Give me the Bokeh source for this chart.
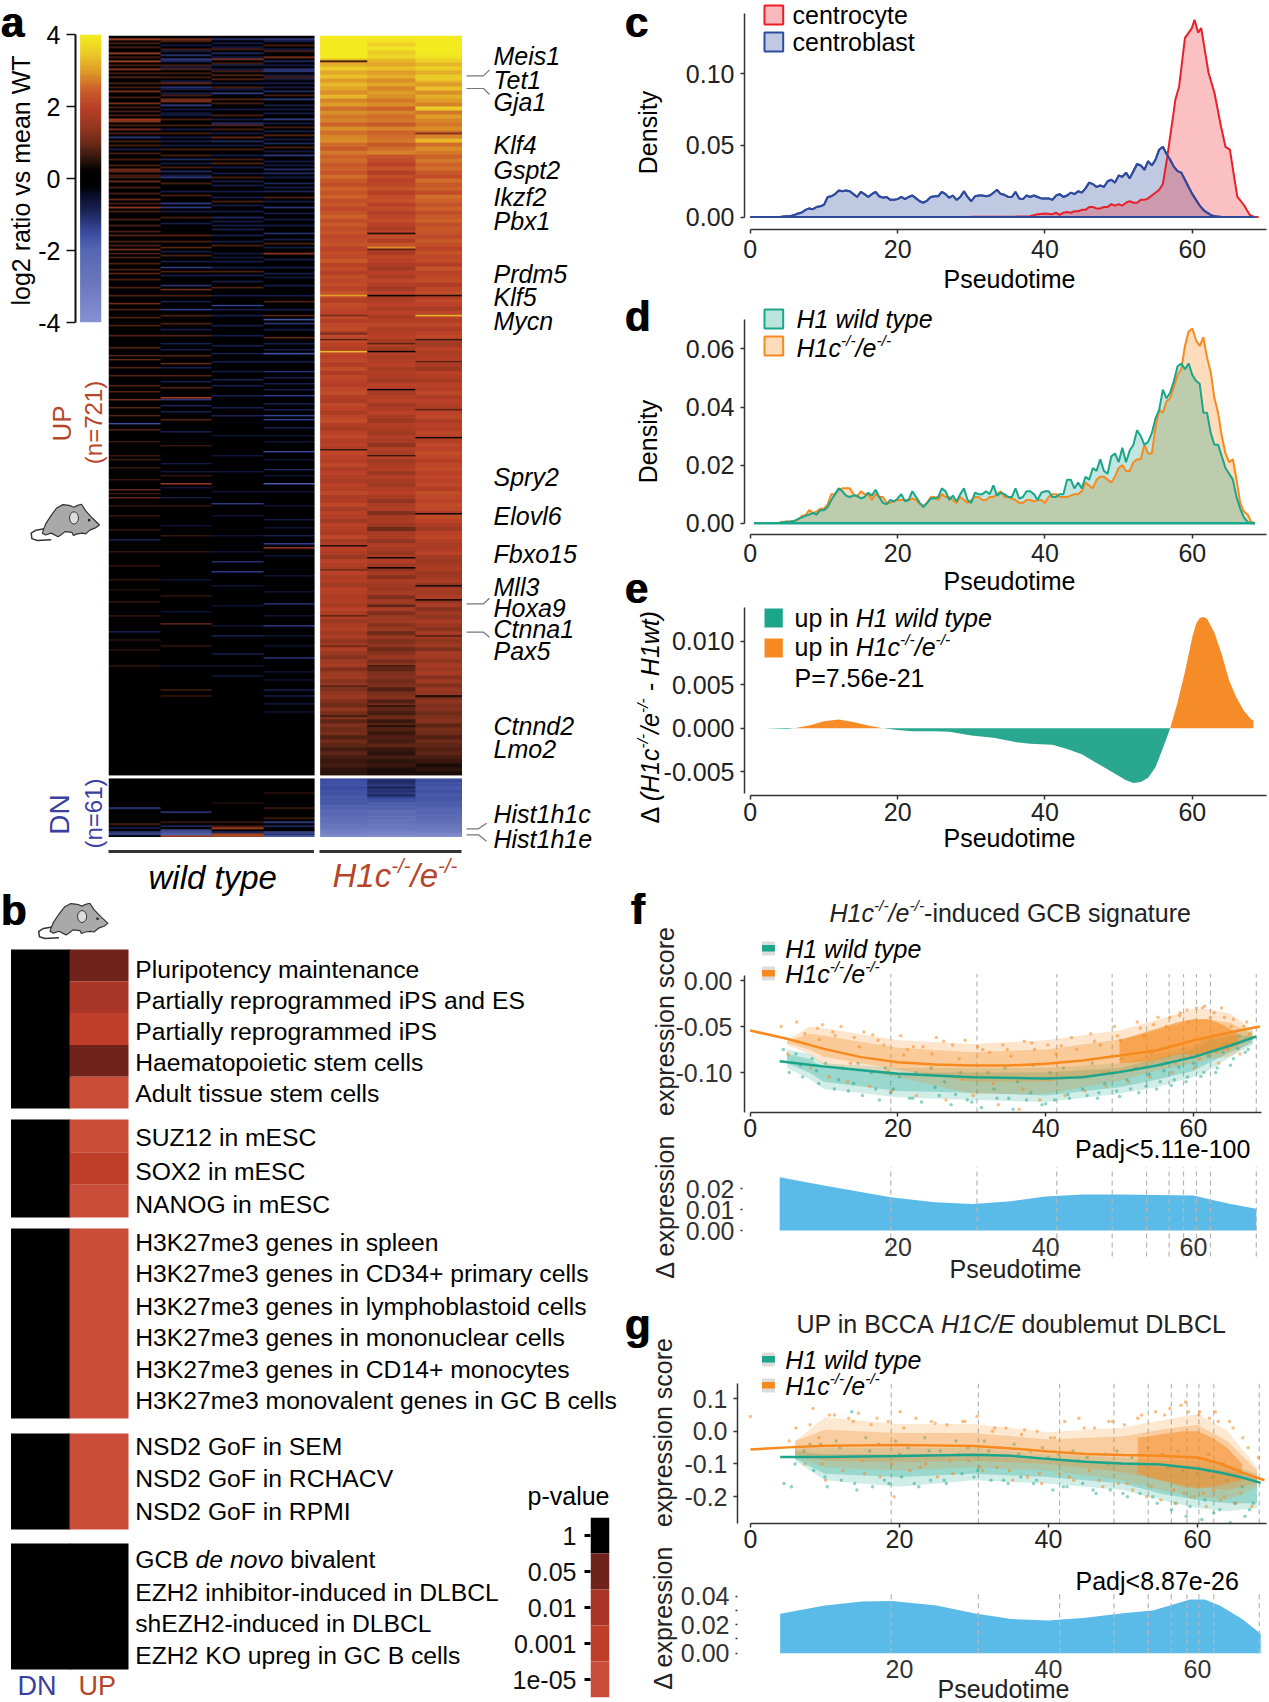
import math
import numpy as np
from bokeh.plotting import figure
from bokeh.layouts import column
from bokeh.models import Range1d, FixedTicker, LinearColorMapper
from bokeh.core.properties import value
from bokeh.embed import file_html
from bokeh.resources import INLINE

# ---------- DATA ----------
genes = ["Meis1","Tet1","Gja1","Klf4","Gspt2","Ikzf2","Pbx1","Prdm5","Klf5","Mycn","Spry2","Elovl6","Fbxo15",
         "Mll3","Hoxa9","Ctnna1","Pax5","Ctnnd2","Lmo2","Hist1h1c","Hist1h1e"]
cbar_ticks = [-4,-2,0,2,4]

# KO heat, 185 bands per column (log2 ratio)
ko_up_1 = [4,4,4,4,4,4, 3.4,3.2,3.5,3.1,3.4,3.0,3.3,3.1,2.9,3.3,
 2.8,3.0,2.6,2.9,2.7,2.8,2.5,2.9,2.6,2.8,2.9,2.6,2.4,2.7,2.5,
 2.6,2.4,2.5,2.3,2.6,2.4,2.2,2.5,2.3,2.5,2.2,2.4,2.1,2.3,2.5,2.2,2.4,2.2,2.3,2.1,
 2.2,2.3,2.0,2.2,2.1,2.4,2.0,2.2,1.9,2.2,2.1,2.2,2.0,2.3,2.1,1.9,2.2,2.1,2.0,2.2,1.9,2.1,2.2,1.8,2.1,2.2,2.0,1.9,2.1,2.0,
 2.1,1.9,2.2,1.8,2.1,2.0,1.9,2.1,2.2,1.9,1.8,2.1,2.0,1.8,2.1,2.2,1.9,1.7,2.0,2.1,1.9,2.0,1.8,2.1,2.0,1.9,2.1,1.8,2.0,1.9,
 1.7,2.0,1.9,2.1,1.8,1.9,2.1,1.7,2.0,1.9,1.6,2.0,1.9,1.8,2.1,1.7,1.9,2.0,1.8,1.5,2.0,1.9,1.7,2.0,1.8,1.9,1.6,2.0,1.9,1.8,
 1.9,1.7,2.0,1.8,1.9,1.5,1.8,1.9,1.6,1.8,1.4,1.7,1.8,1.5,1.3,1.6,1.7,1.2,1.5,1.6,1.3,1.5,1.2,1.4,1.5,
 1.2,1.0,1.4,1.1,1.3,0.9,1.2,1.0,1.1,0.8,1.0,0.9,0.7,0.9,0.7,0.6,0.7,0.5,0.5]
ko_up_2 = [4,3.9,3.6,3.9,3.5,3.7, 3.3,3.1,3.4,3.0,3.2,2.9,3.1,2.8,3.0,2.9,
 2.7,2.9,2.5,2.8,2.6,2.7,2.4,2.8,2.5,2.6,2.7,2.4,2.6,2.8,2.3,
 2.2,2.0,2.3,1.9,2.2,2.0,2.1,2.3,1.9,2.2,2.3,2.0,2.2,1.9,2.1,2.2,2.0,1.8,2.1,2.2,
 1.9,2.3,2.0,1.7,2.1,2.0,1.8,1.6,2.0,1.8,2.1,1.9,1.6,2.0,1.7,1.9,2.0,1.8,2.0,1.7,1.9,2.1,1.8,1.9,2.0,1.7,1.9,1.6,2.0,1.8,
 1.9,2.0,1.7,1.9,1.8,1.6,2.0,1.9,1.7,1.9,2.0,1.6,1.8,2.0,1.7,1.5,1.9,1.8,1.6,1.9,1.7,1.4,1.9,1.7,2.0,1.6,1.8,1.9,1.5,1.9,
 1.7,1.6,1.9,2.0,1.7,1.4,1.8,1.9,1.2,1.7,1.8,1.5,1.0,1.7,1.8,1.4,1.9,1.7,1.5,1.8,1.9,1.6,1.4,1.7,1.3,1.8,1.6,1.5,1.7,1.2,
 1.6,1.4,1.7,1.2,1.5,1.6,1.3,1.5,1.0,1.5,1.2,1.4,1.0,1.3,1.5,1.1,1.4,0.9,1.2,1.3,1.0,1.2,0.8,1.1,1.3,
 0.8,1.1,0.9,0.7,1.0,0.6,0.9,0.8,0.6,0.8,0.7,0.9,0.6,0.5,0.7,0.5,0.6,0.4,0.4]
ko_up_3 = [4,4,4,4,4,3.9, 3.6,3.3,3.6,3.2,3.5,3.3,3.0,3.4,2.9,3.2,
 3.0,2.8,3.6,2.7,3.0,2.8,2.7,2.9,2.6,2.8,3.3,2.6,2.9,2.7,2.5,
 2.7,2.5,2.6,2.4,2.2,2.6,2.4,2.5,2.2,2.6,2.5,2.3,2.5,2.2,2.4,2.5,2.2,2.4,2.3,2.1,
 2.4,2.2,2.0,2.3,2.1,2.2,1.9,2.3,2.0,2.1,2.2,1.8,2.1,2.2,1.9,2.1,2.0,1.7,2.1,2.0,1.9,2.1,1.8,2.0,2.1,1.7,1.6,2.0,1.8,1.9,
 2.0,1.8,1.5,2.0,1.9,1.7,2.0,1.9,2.1,1.8,2.0,1.9,1.7,2.0,2.1,1.8,2.0,1.9,2.1,2.0,1.9,2.1,2.0,2.2,2.1,1.9,2.1,2.2,2.0,2.1,
 2.0,2.1,1.9,2.2,2.1,2.0,2.2,2.1,1.9,2.2,2.0,1.8,1.6,2.0,2.1,1.9,1.7,1.8,2.0,1.6,1.5,1.7,1.8,1.5,1.6,1.8,1.4,1.7,1.6,1.8,
 1.5,1.7,1.3,1.6,1.4,1.7,1.5,1.3,1.7,1.6,1.4,1.6,1.2,1.7,1.6,1.4,1.7,1.5,1.7,1.3,1.6,1.2,1.5,1.4,1.1,
 1.4,1.2,1.3,1.0,1.2,1.3,0.9,1.1,1.0,0.8,1.0,0.9,0.8,0.9,0.7,0.6,0.4,0.5,0.4]
ko_dn_1 = [-1.5,-1.6,-1.6,-1.7,-1.5,-1.6,-1.7,-1.6,-1.7,-1.8,-1.7,-1.8,-1.7,-1.9,-2,-1.9,-2.1,-2.2,-2.0,-2.3,-2.5,-2.4,-2.6,-2.8,-2.7,-3,-3.1,-3.3,-3.5,-3.8]
ko_dn_2 = [-1.2,-1,-1.1,-1.3,-.9,-1.2,-1.1,-1.3,-1,-1.4,-1.6,-1.7,-1.9,-1.8,-2,-1.9,-2.2,-2.4,-2.1,-2.6,-2.4,-2.8,-2.5,-2.9,-3,-2.8,-3.2,-3.4,-3.6,-3.9]
ko_dn_3 = [-1.6,-1.5,-1.7,-1.6,-1.8,-1.7,-1.6,-1.7,-1.8,-1.7,-1.7,-1.8,-1.9,-1.8,-1.9,-2,-2.1,-2,-2.2,-2.3,-2.2,-2.5,-2.4,-2.7,-2.8,-3,-3,-3.3,-3.6,-3.9]
# narrow stripes: (row of 370, log2 ratio)
ko_stripes_1 = [(13,.1),(130,3.2),(140,1),(149,1),(152,.8),(158,3.4),(207,.6),(255,.3),(267,1),(290,.8),(305,.9),(325,.7),(340,.5)]
ko_stripes_2 = [(99,.1),(106,3),(107,.7),(130,.1),(154,.8),(158,.1),(177,.2),(210,.6),(261,.2),(266,.2),(285,.7),(315,.5),(335,.4),(345,.3)]
ko_stripes_3 = [(17,3.5),(22,3.6),(37,3.4),(49,1),(130,.3),(140,3.4),(152,.6),(163,.8),(187,.9),(201,.3),(239,.1),(275,.3),(282,.1),(300,.7),(330,.1)]
# wild-type stripes
wt_up_1 = [(2,2.2),(9,2.0),(13,2.2),(17,1.8),(21,1),(28,1.6),(34,1.5),(42,2),(43,1.8),(47,1.5),(51,-1.5),(57,-1),(67,1.4),(68,1.2),(73,1.3),(82,1.2),(86,1.8),(100,1),(107,1.4),(111,.9),(119,1),(134,1.2),(162,1),(182,1.2),(194,-1.6),(212,.7),(227,1),(231,1),(252,-1),(277,.5),(298,-1),(307,.6)]
wt_up_2 = [(2,1.6),(10,-1.4),(12,-1.6),(13,-1.2),(17,1),(24,1.2),(26,-1.4),(29,-1),(32,1.5),(33,1.5),(35,-1.6),(40,-.8),(51,-1),(53,-1),(62,-1.2),(68,-1.2),(71,-1.5),(84,-1.5),(86,-1.5),(100,1),(106,1),(116,-1.5),(125,-1.3),(127,1.2),(137,-1.5),(154,-.9),(164,1),(181,1.8),(182,-1.3),(185,-1),(214,-.7),(224,1.5),(231,-.8),(294,1),(327,.8),(330,.7)]
wt_up_3 = [(2,-1.4),(9,-1.2),(12,1.5),(15,-.9),(20,1),(22,1),(29,-1.6),(32,1),(44,-1.3),(45,1),(51,1.2),(53,-1.2),(64,1),(69,-.9),(73,-1),(81,-1),(91,-1.2),(97,-1),(100,-1),(109,-.8),(111,-.8),(120,-1),(135,-1.5),(137,-1),(159,-.9),(168,-.8),(172,-1),(234,-1.3),(263,-1.2),(268,-1.4),(300,-1),(309,-.9),(320,-.8)]
wt_up_4 = [(2,-1.6),(11,1.5),(13,-1.2),(17,-1.5),(18,-1.5),(24,-1),(28,-1.3),(32,-1.6),(35,-1),(42,-1.6),(48,-1),(50,1),(54,-1.2),(60,-1.5),(67,-1.3),(69,-1.2),(74,-1.1),(78,-1.1),(86,-1.4),(99,-1.3),(109,1.6),(116,-1),(121,-.8),(140,1),(142,-1.8),(144,-1.3),(151,1),(159,-1.8),(168,-1.2),(180,-1.4),(190,-1.5),(192,-1.4),(208,-1.5),(217,-1),(224,-1.9),(242,-.8),(250,-.9),(254,-1.5),(256,1.6),(284,-1.2),(295,-1.4),(311,-1.3),(327,-1),(330,-.9),(334,-.8)]
# faint wild-type stripes: row of 370, positive = faint red, negative = faint blue
wt_faint_1 = [4,6,11,15,19,24,26,31,36,38,40,45,49,53,55,59,62,65,70,71,76,79,84,88,92,95,98,103,105,109,114,117,122,126,130,137,141,145,150,156,160,166,170,175,178,186,190,197,203,210,216,222,229,235,240,247,258,265,272,283,290,302,315]
wt_faint_2 = [3,-5,7,-8,15,-16,19,21,-23,-27,30,-37,-39,42,45,-47,49,-55,57,60,-64,66,-70,74,-78,80,-88,91,-94,103,-108,110,-113,118,-120,130,-133,140,144,-147,150,-157,160,-166,170,-173,176,-188,192,-198,205,-218,220,-226,235,-245,250,258,-272,280,-288,305,-315]
wt_faint_3 = [-4,-6,7,-11,14,-17,18,-24,26,-27,34,-37,40,-42,47,-49,-55,57,-60,62,-66,71,-75,-78,83,-85,-88,-93,-95,-103,105,-113,-116,118,-123,126,-130,-140,-145,-150,-155,-163,-175,-180,-186,-190,-200,-210,-218,-228,-240,-250,-258,-275,-285,-295,-315]
wt_faint_4 = [-3,5,-7,8,-15,-20,21,-22,-26,30,-37,-39,-44,46,-52,56,-58,-63,-65,-71,-76,81,-83,-89,-92,-95,-102,104,-106,-112,-119,-125,-130,133,-137,-147,-154,-157,-163,-171,-174,-177,-184,-187,-196,-200,-203,-212,-220,-228,-235,-246,-260,-270,-278,-290,-300,-305,-318,-322,-338]
wt_dn_1 = [(15,-1.5),(23,.9),(25,-1),(27,-1.6),(28,-1.8)]
wt_dn_2 = [(17,-1.4),(22,.8),(24,-1.2),(26,-2),(27,-2.5),(28,-3),(29,2.2)]
wt_dn_3 = [(12,.5),(22,.8),(24,.9),(25,2.2),(27,-1.2),(28,2.4),(29,2.5)]
wt_dn_4 = [(7,.6),(15,.8),(20,.8),(22,-1.6),(24,-1.2),(27,-2),(28,-1.6),(29,-3)]

sig_groups = [
 ["Pluripotency maintenance","Partially reprogrammed iPS and ES","Partially reprogrammed iPS","Haematopoietic stem cells","Adult tissue stem cells"],
 ["SUZ12 in mESC","SOX2 in mESC","NANOG in mESC"],
 ["H3K27me3 genes in spleen","H3K27me3 genes in CD34+ primary cells","H3K27me3 genes in lymphoblastoid cells","H3K27me3 genes in mononuclear cells","H3K27me3 genes in CD14+ monocytes","H3K27me3 monovalent genes in GC B cells"],
 ["NSD2 GoF in SEM","NSD2 GoF in RCHACV","NSD2 GoF in RPMI"],
 ["GCB de novo bivalent","EZH2 inhibitor-induced in DLBCL","shEZH2-induced in DLBCL","EZH2 KO upreg in GC B cells"]]
sig_pclass = [[1,2,3,1,4],[4,3,4],[4,4,4,4,4,4],[4,4,4],[0,0,0,0]]
p_labels = ["1","0.05","0.01","0.001","1e-05"]
p_colors = ["#000000","#70231a","#a83526","#bf3e2a","#c94d39"]

# density c (x1000)
cb_x = [0,4,4.5,5,5.5,6,6.5,7,7.5,8,8.5,9,9.5,10,10.5,11,11.5,12,12.5,13,13.5,14,14.5,15,15.5,16,16.5,17,17.5,18,18.5,19,19.5,20,20.5,21,21.5,22,22.5,23,23.5,24,24.5,25,25.5,26,26.5,27,27.5,28,28.5,29,29.5,30,30.5,31,31.5,32,32.5,33,33.5,34,34.5,35,35.5,36,36.5,37,37.5,38,38.5,39,39.5,40,40.5,41,41.5,42,42.5,43,43.5,44,44.5,45,45.5,46,46.5,47,47.5,48,48.5,49,49.5,50,50.5,51,51.5,52,52.5,53,53.5,54,54.5,55,55.5,56,56.5,57,57.5,58,58.5,59,59.5,60,60.5,61,61.5,62,62.5,63,64,68.5]
cb_y = [0,0,.3,.6,.8,1.5,2.5,3.2,5,6,5.5,7,7.5,8.5,14,14.5,16,18.5,18,18.5,18,16,14,17.5,16,14,16,17.5,14.5,13.5,14,12,12,12.5,14,12.5,14,15,13,11,10,11.5,14,14.5,14.5,17.5,16,13.5,15,12,14,18,14,11,14.5,15,15,14.5,15,17,19,16,15.5,14,14,17.5,13,12.5,15,14,15,14,13,13,13,12,15,16,14,15,17,16,18,17,20,24,23,21,22,21,25,26,24,29,28,31,27,32,37,36,33,39,36,40,47,49,44,40,35,32,31,26,21,16,12,8,5,3,1.5,.5,0,0]
cc_x = [0,30,36,38,39,40,41,41.5,42,42.5,43,43.5,44,44.5,45,45.5,46,46.5,47,47.5,48,48.5,49,49.5,50,50.5,51,51.5,52,52.5,53,53.5,54,54.5,55,55.5,56,56.6,57.7,58.2,59,59.9,60.3,60.8,61.2,62.2,63,63.9,64.5,65.1,66.1,67,67.8,68.4,69]
cc_y = [0,.2,.4,.5,2,2.5,2,3,1.5,3,3.5,3,4,4,5,5,7,7,6,6,7,7,9,8,9,8,10,11,10,10,12,12,13,15,17,19,23,42,82,91,125,131.5,137.6,128.7,132,100.7,86.7,63,49,47,14.3,8.4,1.4,0,0]
# density d (x1000)
d_x = [4,5,5.5,6,6.5,7,7.5,8,8.5,9,9.5,10,10.5,11,11.5,12,12.5,13,13.5,14,14.5,15,15.5,16,16.5,17,17.5,18,18.5,19,19.5,20,20.5,21,21.5,22,22.5,23,23.5,24,24.5,25,25.5,26,26.5,27,27.5,28,28.5,29,29.5,30,30.5,31,31.5,32,32.5,33,33.5,34,34.5,35,35.5,36,36.5,37,37.5,38,38.5,39,39.5,40,40.5,41,41.5,42,42.5,43,43.5,44,44.5,45,45.5,46,46.5,47,47.5,48,48.5,49,49.5,50,50.5,51,51.5,52,52.5,53,53.5,54,54.5,55,55.5,56,56.5,57,57.5,58,58.5,59,59.5,60,60.5,61,61.5,62,62.5,63,63.5,64,64.5,65,65.5,66,66.5,67,67.5,68,68.5]
d_wt = [.2,.5,.6,.8,1.5,2,2.5,3,3.5,3,4.5,4.5,5.5,8,10,12,11,9.5,9,9.5,9.5,8.5,9,10.5,9.5,11.5,9,7,6.5,8,7.5,8.5,10,7.5,8,11,9,7,5.5,7,8.5,8.5,9,12,11,8,9.5,7.5,10,12,8,7,10.5,10,10,11,10,13,9.5,10.5,10,9,9,12,8.5,9,11,11,10,8,10.5,11,11,9,9,10,10,15,15,12,14,12,16,15,19,18,22,18,17,23,24,21,26,21,25,27,32,30,27,28,31,36,39,46,43,45,49,54,55,53,55,51,49,48,38,38,31,27,27,23,19,17,15,9,5,2,.5,0,0]
d_ko = [.3,.6,.6,.8,1.2,2.5,2.8,4.5,3.5,4,5,5,6.5,10,10,11.5,12,12,12,10,9,11,10,10,8,10,9,9,7,7,7.5,8,8,8,8,8.5,8,6.5,6,7,9,9,8,10,9,9,8,7,9,8,7,8,9,9,8,8,9,9,10,11,9,9,8.5,8,7,7,8,8,7.5,8,8,7,9,10,10,9,9,9,9.5,10,10,11,14,13,12,15,16,16,15,14,16,19,20,18,18,21,22,22,27,24,24,33,39,38,42,43,47,51,53,61,66,67,63,61,64,57,52,43,38,30,24,21,22,15,7,4,3,.5,0]
# difference e (x1000)
e_x = [2,5,6,8,10,12,14,16,18,20,22,25,27,30,33,36,38,41,43,45,47,49,51,52,53,54,55,56,57,58,59,60,60.5,61,61.5,62,63,64,65,66,67,68,68.3]
e_y = [-.02,-.1,0,.3,.8,1,.7,.3,0,-.2,-.35,-.35,-.4,-.85,-1.1,-1.6,-1.8,-1.9,-2.4,-3,-4,-5,-6,-6.3,-6.2,-5.7,-4.5,-2.3,0,3,6.5,10.5,12,12.7,12.8,12.6,11,8.5,5.5,3.5,2,1,.9]

# f: smoothed fits
f_wt_fx = [4,10,20,30,40,45,50,55,60,65,68.5]
f_wt_fy = [-.0877,-.0935,-.1014,-.1051,-.1065,-.1051,-.0996,-.0924,-.0833,-.0707,-.0609]
f_ko_fx = [0,5,10,15,20,25,30,35,40,45,50,55,60,65,69]
f_ko_fy = [-.0543,-.0634,-.0743,-.0833,-.0888,-.0913,-.0924,-.0924,-.0906,-.087,-.0815,-.0761,-.0652,-.0562,-.05]
# f: extent of point clouds
f_cloud_x = [5,8,10,20,30,40,50,55,60,62,65,68]
f_ko_top = [-.065,-.05,-.052,-.065,-.069,-.065,-.054,-.043,-.031,-.031,-.036,-.054]
f_ko_bot = [-.07,-.08,-.092,-.105,-.123,-.123,-.109,-.098,-.09,-.085,-.083,-.065]
f_ko_in_top = [-.066,-.058,-.06,-.073,-.078,-.075,-.064,-.055,-.042,-.042,-.046,-.058]
f_ko_in_bot = [-.068,-.075,-.083,-.097,-.11,-.11,-.1,-.09,-.083,-.08,-.075,-.062]
f_wt_top = [-.075,-.08,-.09,-.095,-.095,-.095,-.09,-.08,-.07,-.06,-.055,-.055]
f_wt_bot = [-.095,-.107,-.118,-.127,-.13,-.132,-.123,-.116,-.105,-.098,-.083,-.07]
f_wt_in_top = [-.08,-.085,-.095,-.1,-.1,-.1,-.095,-.085,-.075,-.065,-.06,-.06]
f_wt_in_bot = [-.09,-.1,-.11,-.12,-.122,-.125,-.116,-.108,-.098,-.09,-.078,-.068]
f_core_x = [50,54,58,60,62,64,66]
f_core_top = [-.065,-.055,-.045,-.042,-.042,-.048,-.058]
f_core_bot = [-.09,-.088,-.08,-.08,-.078,-.075,-.07]
# f: single cells
f_ko_x = [4.2,5.1,6.3,7.4,8.2,9.1,9.8,10.7,11.5,12.3,13.2,14.1,15.4,16.2,17.3,18.1,19.2,20.4,21.3,22.5,23.4,24.6,25.2,26.5,27.4,28.3,29.1,30.2,31.5,32.4,33.6,34.2,35.3,36.4,37.1,38.5,39.2,40.3,41.4,42.6,43.5,44.2,45.3,46.1,47.4,48.2,49.3,50.1,51.2,52.4,53.3,54.1,55.2,56.3,57.1,58.2,59.3,60.1,61.2,62.3,63.4,64.2,65.1,66.3,67.2,
 9.4,11.2,13.6,14.8,16.6,18.7,20.8,22.1,24.1,26.2,28.7,30.8,32.9,34.8,36.9,38.1,40.7,42.1,44.8,46.6,47.9,49.7,51.6,52.8,53.7,54.6,55.7,56.8,57.6,58.1,58.7,59.1,59.7,60.4,60.8,61.5,62.1,62.8,63.1,63.8,64.6,65.4,66.1,66.8,67.6]
f_ko_y = [-.05,-.08,-.045,-.058,-.095,-.052,-.048,-.105,-.06,-.05,-.11,-.062,-.056,-.115,-.065,-.07,-.12,-.06,-.075,-.125,-.072,-.08,-.062,-.13,-.07,-.085,-.065,-.125,-.075,-.078,-.135,-.07,-.082,-.14,-.066,-.075,-.13,-.07,-.08,-.125,-.062,-.075,-.12,-.058,-.07,-.115,-.05,-.065,-.11,-.045,-.06,-.105,-.04,-.05,-.1,-.035,-.045,-.095,-.03,-.04,-.09,-.04,-.05,-.08,-.045,
 -.064,-.056,-.09,-.072,-.059,-.098,-.081,-.072,-.102,-.066,-.108,-.072,-.112,-.075,-.118,-.068,-.108,-.071,-.105,-.066,-.1,-.06,-.098,-.052,-.095,-.048,-.092,-.04,-.09,-.038,-.085,-.032,-.082,-.03,-.085,-.028,-.08,-.035,-.078,-.03,-.075,-.042,-.068,-.05,-.058]
f_wt_x = [4.5,5.3,6.2,7.1,8.4,9.3,10.2,11.4,12.5,13.3,14.6,15.2,16.4,17.5,18.3,19.4,20.2,21.6,22.4,23.2,24.5,25.6,26.3,27.2,28.5,29.4,30.6,31.3,32.2,33.4,34.5,35.6,36.2,37.4,38.3,39.5,40.6,41.2,42.4,43.2,44.5,45.6,46.3,47.2,48.5,49.6,50.3,51.5,52.2,53.6,54.3,55.5,56.2,57.4,58.6,59.2,60.5,61.4,62.6,63.2,64.5,65.4,66.2,67.4,
 6.8,9,12,14,17,19,22,25,27.8,30,33,35,38,40,43,45,47,48,50,51,52.6,54,55,56,57,58,59,60,61,62,63,64,65,66,67]
f_wt_y = [-.075,-.1,-.08,-.105,-.085,-.112,-.09,-.118,-.095,-.12,-.09,-.125,-.1,-.13,-.095,-.118,-.105,-.128,-.1,-.132,-.095,-.125,-.11,-.135,-.1,-.13,-.105,-.138,-.1,-.128,-.095,-.14,-.11,-.13,-.092,-.135,-.1,-.13,-.095,-.128,-.105,-.125,-.09,-.122,-.1,-.12,-.085,-.118,-.095,-.115,-.08,-.11,-.09,-.108,-.075,-.105,-.08,-.1,-.06,-.095,-.07,-.085,-.06,-.075,
 -.092,-.098,-.108,-.112,-.118,-.122,-.128,-.116,-.124,-.132,-.118,-.128,-.122,-.134,-.124,-.118,-.128,-.112,-.126,-.108,-.122,-.102,-.118,-.098,-.114,-.094,-.11,-.09,-.104,-.082,-.1,-.078,-.092,-.074,-.078]
vlines_f = [19.04,30.7,41.5,49.0,53.65,56.7,58.65,60.4,62.3,68.5]
fd_x = [4,10,19,25,30,35,40,45,50,55,60,62,65,68.5]
fd_y = [.0256,.0216,.016,.0136,.0128,.014,.0163,.0173,.0173,.0171,.0168,.0152,.0128,.0104]

# g
g_wt_fx = [4,10,20,30,35,40,45,50,55,60,63,66,68.5]
g_wt_fy = [-.079,-.079,-.0759,-.0718,-.0749,-.0851,-.0933,-.0985,-.1015,-.1138,-.1262,-.1415,-.1579]
g_ko_fx = [0,5,10,20,30,35,40,45,50,55,60,63,66,69]
g_ko_fy = [-.0554,-.0492,-.0441,-.0421,-.0451,-.0523,-.0615,-.0697,-.0728,-.0749,-.08,-.0985,-.1262,-.1497]
g_cloud_x = [6,10,20,30,40,50,55,60,64,68]
g_ko_top = [-.03,.043,.022,.022,-.003,.012,.033,.053,.002,-.11]
g_ko_bot = [-.08,-.11,-.12,-.11,-.12,-.15,-.18,-.2,-.21,-.17]
g_ko_in_top = [-.03,.005,-.005,-.005,-.025,-.015,.005,.02,-.03,-.12]
g_ko_in_bot = [-.07,-.09,-.095,-.09,-.1,-.125,-.15,-.17,-.18,-.16]
g_wt_top = [-.05,-.05,-.05,-.05,-.07,-.08,-.09,-.09,-.1,-.13]
g_wt_bot = [-.09,-.15,-.17,-.15,-.16,-.18,-.21,-.235,-.245,-.235]
g_wt_in_top = [-.06,-.07,-.07,-.07,-.09,-.1,-.11,-.11,-.12,-.14]
g_wt_in_bot = [-.085,-.13,-.14,-.13,-.14,-.16,-.19,-.21,-.22,-.22]
g_core_x = [52,55,58,60,62,64,66]
g_core_top = [-.02,-.01,.0,.0,-.02,-.05,-.1]
g_core_bot = [-.13,-.15,-.17,-.175,-.17,-.16,-.15]
g_ko_x = [0,5.2,6.1,7.3,8.4,9.2,10.1,11.3,12.4,13.2,14.5,15.3,16.2,17.4,18.5,19.3,20.1,21.4,22.2,23.5,24.3,25.1,26.4,27.2,28.5,29.3,30.4,31.2,32.5,33.1,34.3,35.2,36.4,37.2,38.5,39.1,40.3,41.5,42.2,43.4,44.1,45.5,46.2,47.3,48.1,49.4,50.2,51.3,52.5,53.2,54.4,55.1,56.3,57.2,58.4,59.1,60.3,61.2,62.4,63.1,64.3,65.2,66.1,67.3,68.2,
 8,9.6,10.6,12,13.8,15,17,19,20.6,22.8,24.8,26.8,28.8,30.8,32.8,34.8,36.8,38.8,40.8,42.8,44.8,46.8,48.6,50.6,52,53.8,55.6,56.8,57.8,58.2,58.8,59.6,60.2,60.8,61.6,62.2,62.8,63.6,64.8,65.8,66.8]
g_ko_y = [.045,-.03,.01,-.1,.07,-.02,-.15,.05,-.12,.04,.055,-.13,.02,-.14,.03,-.2,.06,-.12,.04,-.1,.03,-.14,.02,-.13,.03,-.09,.045,-.12,.0,-.11,.01,-.15,-.01,-.14,.0,-.16,-.02,-.13,.03,-.15,.04,-.12,.01,-.17,.03,-.16,.02,-.18,.05,-.2,.06,-.21,.07,-.22,.09,-.2,.06,-.23,.06,-.21,.03,-.22,-.02,-.23,-.08,
 .02,-.1,.05,-.08,.03,-.09,.04,-.1,.01,-.11,.025,-.09,.03,-.11,.01,-.12,.005,-.13,-.02,-.14,.01,-.15,.03,-.16,.04,-.17,.05,-.18,.08,-.19,.06,-.2,.05,-.19,.04,-.18,.03,-.2,.01,-.19,-.05]
g_wt_x = [4.5,5.5,7.2,8.5,9.4,10.3,11.5,12.2,13.6,14.3,15.5,16.4,17.2,18.6,19.5,20.3,21.2,22.6,23.4,24.2,25.5,26.3,27.6,28.4,29.2,30.5,31.4,32.3,33.5,34.6,35.4,36.3,37.6,38.4,39.2,40.6,41.4,42.5,43.3,44.6,45.2,46.4,47.6,48.3,49.2,50.6,51.2,52.3,53.4,54.6,55.3,56.5,57.4,58.5,59.4,60.6,61.5,62.2,63.5,64.4,65.5,66.4,67.5,
 6,8,10,12,14,16,18,20,22,24,26,28,30,32,34,36,38,40,42,44,46,48,50,52,54,56,57,58,59,60,61,62,63,64,65,66,67]
g_wt_y = [-.16,-.17,-.06,-.12,-.04,-.17,-.03,-.15,.06,-.18,-.02,-.17,-.04,-.16,-.03,-.14,-.05,-.17,-.02,-.15,-.06,-.16,-.03,-.13,-.05,-.12,-.03,-.15,-.05,-.16,-.04,-.14,-.06,-.15,-.05,-.18,-.07,-.17,-.06,-.16,-.08,-.19,-.07,-.18,-.06,-.2,-.08,-.19,-.05,-.22,-.07,-.24,-.06,-.26,-.08,-.27,-.07,-.25,-.1,-.28,-.12,-.26,-.22,
 -.1,-.04,-.14,-.05,-.16,-.06,-.15,-.07,-.16,-.06,-.15,-.07,-.14,-.06,-.15,-.07,-.16,-.08,-.17,-.09,-.18,-.1,-.19,-.1,-.2,-.11,-.22,-.12,-.23,-.13,-.21,-.14,-.24,-.15,-.22,-.17,-.24]
vlines_g = [18.9,30.6,41.5,48.8,53.4,56.5,58.6,60.2,62.2,68.3]
gd_x = [4,10,15,19,25,30,35,40,45,50,54,57,59,61,63,66,68.5]
gd_y = [.0276,.0335,.0363,.0367,.0335,.028,.024,.023,.0248,.028,.03,.0346,.0377,.0377,.0335,.024,.0136]

# ---------- STYLE ----------
FONT = "Liberation Sans"
TEAL = "#1ba58b"; ORANGE = "#f68a1f"; RED = "#ee1c25"; BLUE = "#2e4b9e"; SKY = "#5bbbe8"
BRICK = "#b5462a"; INDIGO = "#3a409f"

stops = [(-4,"#8591d2"),(-3,"#6b79be"),(-2,"#5566b2"),(-1.5,"#3a4a9f"),(-1,"#1e2860"),(-.5,"#0b0f2c"),(-.2,"#000000"),
         (.2,"#000000"),(.5,"#2a120c"),(1,"#6b2a18"),(1.5,"#9a3822"),(2,"#b93f27"),(2.5,"#cb5f2a"),(3,"#de9a28"),(3.5,"#ecc928"),(4,"#f4ea20")]
def _rgb(h): return [int(h[i:i+2],16) for i in (1,3,5)]
sv = [s[0] for s in stops]; sc = np.array([_rgb(s[1]) for s in stops],float)
pal = []
for t in np.linspace(-4,4,256):
    pal.append("#%02x%02x%02x" % tuple(int(round(np.interp(t,sv,sc[:,k]))) for k in range(3)))
mapper = LinearColorMapper(palette=pal, low=-4, high=4)

def place(x,y):
    return {"position":"absolute","left":f"{x}px","top":f"{y}px"}

# ---------- overlay with pixel coordinates ----------
ov = figure(width=1269,height=1702,x_range=Range1d(0,1269),y_range=Range1d(1702,0),output_backend="svg",
            toolbar_location=None,min_border=0,outline_line_color=None,styles=place(0,0),frame_align=False,
            background_fill_color=None,border_fill_color=None)
ov.axis.visible=False; ov.grid.visible=False

def T(x,y,s,size=25,italic=False,bold=False,color="black",align="left",angle=0,base="middle"):
    style = "bold" if bold else ("italic" if italic else "normal")
    ov.text(x=[x],y=[y],text=[s],text_font=value(FONT),text_font_size=f"{size}px",text_font_style=style,
            text_color=color,text_align=align,text_baseline=base,angle=angle)

WD = {' ':.278,'-':.333,'/':.278,'(':.333,')':.333,'H':.722,'c':.5,'w':.722,'t':.278,'i':.222,'U':.722,'P':.667,'l':.222,'y':.5,
      'B':.667,'C':.722,'A':.667,'E':.667,'D':.722,'L':.556,'G':.778,'s':.5,'r':.333,'m':.833,'v':.5,'\u0394':.612,'=':.584,'.':.278,'f':.278}
def run(x,y,parts,size=25,color="black",angle=0):
    for part in parts:
        s,it,sup = part
        sz = size*(.62 if sup else 1)
        off = size*.3 if sup else 0
        if angle==0:
            T(x,y-off,s,sz,it,color=color)
            x += sum(WD.get(c,.556) for c in s)*sz
        else:
            T(x-off,y,s,sz,it,color=color,angle=angle)
            y -= sum(WD.get(c,.556) for c in s)*sz
KO_RUN = [("H1c",True,False),("-/-",True,True),("/e",True,False),("-/-",True,True)]

def mouse(x0,y0,w,h):
    fx = lambda a:[x0+u*w for u in a]; fy = lambda a:[y0+u*h for u in a]
    ov.line(fx([.2,.08,.01,.02,.1,.3]),fy([.68,.72,.8,.95,1,.98]),line_color="#333333",line_width=1.5)
    ov.patch(fx([.17,.22,.3,.38,.47,.56,.63,.68,.74,.8,.9,1,.94,.86,.8,.75,.68,.62,.6,.5,.45,.4,.3,.22]),
             fy([.8,.55,.32,.12,.03,.05,.1,.05,.02,.2,.4,.58,.66,.72,.82,.8,.82,.86,.78,.76,.84,.9,.8,.85]),
             fill_color="#a9a9a9",line_color="#333333",line_width=1.2)
    ov.ellipse(x=[x0+.63*w],y=[y0+.39*h],width=.13*w,height=.33*h,fill_color="#dddddd",line_color="#333333",line_width=1)
    ov.circle(x=[x0+.85*w],y=[y0+.45*h],radius=1.3,fill_color="#222222",line_color=None)

# panel letters
for s,x,y in [("a",0,22),("b",0,910),("c",624,22),("d",624,316),("e",624,588),("f",630,909),("g",624,1324)]:
    T(x,y,s,42,bold=True,base="alphabetic")
    T(x+1,y,s,42,bold=True,base="alphabetic")

# ---- a text
T(20.6,180,"log2 ratio vs mean WT",angle=math.pi/2,align="center")
gene_y = [55,79.3,101.7,144.3,169.3,196.7,220,273.3,296,320,476.7,515,553,586.7,607.3,628.3,650,725,748,813,838]
for g,y in zip(genes,gene_y):
    T(493,y,g,italic=True)
for xs,ys in [([466,483,489],[75.3,75.3,69.3]),([466,483,489],[88,88,94]),([466,483,489],[603.3,603.3,597.7]),
              ([466,483,489],[631.7,631.7,636.7]),([466,478,486],[828.3,828.3,822.7]),([466,478,486],[834.3,834.3,840.7])]:
    ov.line(xs,ys,line_color="#777777",line_width=1.2)
T(61,423,"UP",26,color=BRICK,angle=math.pi/2,align="center")
T(93,422,"(n=721)",24,color=BRICK,angle=math.pi/2,align="center")
T(59,814,"DN",28,color=INDIGO,angle=math.pi/2,align="center")
T(93,813,"(n=61)",24,color=INDIGO,angle=math.pi/2,align="center")
mouse(30,503,69,37)
ov.quad(left=[108,319],right=[313.5,461],top=[849.5,849.5],bottom=[852.5,852.5],fill_color="#333333",line_color=None)
T(148,877,"wild type",33,italic=True)
run(332,875,KO_RUN,33,color=BRICK)

# ---- b
mouse(37.5,902,70,36)
g_tops = [949,1119,1228,1433,1543]; g_bots = [1108,1217,1418,1529,1669]
lab_y = [[969,1000,1030.7,1062,1092.7],[1136.7,1170.7,1204],[1242,1273,1306,1336.7,1369,1400],[1445.7,1478,1510.7],[1559,1591.7,1623,1655]]
for gi,(t,b) in enumerate(zip(g_tops,g_bots)):
    n = len(sig_groups[gi]); h = (b-t)/n
    ov.quad(left=[10.5],right=[70],top=[t],bottom=[b],fill_color="#000000",line_color=None)
    # adjacent cells of one class are painted as one block
    i = 0
    while i < n:
        c = sig_pclass[gi][i]; k = i
        while k+1 < n and sig_pclass[gi][k+1] == c: k += 1
        ov.quad(left=[69],right=[128],top=[t+i*h],bottom=[t+(k+1)*h],fill_color=p_colors[c],line_color=None)
        i = k+1
    for s,y in zip(sig_groups[gi],lab_y[gi]):
        if "de novo" in s:
            run(134.7,y,[("GCB ",False,False),("de novo ",True,False),("bivalent",False,False)],24.7)
        else:
            T(134.7,y,s,24.7)
T(17,1685,"DN",27,color=INDIGO); T(78,1685,"UP",27,color=BRICK)
T(527,1495,"p-value")

# ---- c,d,e,f,g axis titles and legends
def swatch(x0,y0,x1,y1,c,a=.3,lc=None):
    ov.quad(left=[x0],right=[x1],top=[y0],bottom=[y1],fill_color=c,fill_alpha=a,line_color=lc,line_width=2)
swatch(764,5,782.7,24,RED,.3,RED); swatch(764,32,782.7,51,BLUE,.3,BLUE)
T(792,14.5,"centrocyte"); T(792,41,"centroblast")
T(647,132,"Density",angle=math.pi/2,align="center"); T(1009,278,"Pseudotime",align="center")
swatch(764,309,782.7,328,TEAL,.3,TEAL); swatch(764,336,782.7,355,ORANGE,.3,ORANGE)
T(796,318,"H1 wild type",italic=True); run(796,347,KO_RUN)
T(647,441,"Density",angle=math.pi/2,align="center"); T(1009,580,"Pseudotime",align="center")
swatch(764,608,782.3,627,TEAL,1); swatch(764,638,782.3,657,ORANGE,1)
run(794,617.7,[("up in ",False,False),("H1 wild type",True,False)])
run(794,646.7,[("up in ",False,False)]+KO_RUN)
T(794,677.7,"P=7.56e-21")
T(1009,837.7,"Pseudotime",align="center")
run(649,823,[("\u0394 ",False,False),("(H1c",True,False),("-/-",True,True),("/e",True,False),("-/-",True,True),(" ",True,False),("- H1wt)",True,False)],angle=math.pi/2)

for y1,y2,tt in [(941,966,0),(1352,1378,1)]:
    for yy,c in [(y1,TEAL),(y2,ORANGE)]:
        ov.quad(left=[761.5],right=[774.4],top=[yy],bottom=[yy+14],fill_color="#dcdcdc",line_color=None)
        ov.quad(left=[761.5],right=[774.4],top=[yy+3.5],bottom=[yy+10],fill_color=c,line_color=None)
T(784.7,948,"H1 wild type",italic=True); run(784.7,973,KO_RUN)
T(784.7,1359,"H1 wild type",italic=True); run(784.7,1385,KO_RUN)
run(829,912,KO_RUN+[("-induced GCB signature",False,False)],color="#222222")
run(796,1323,[("UP in BCCA ",False,False),("H1C/E ",True,False),("doublemut DLBCL",False,False)],color="#222222")
T(664,1021,"expression score",angle=math.pi/2,align="center",color="#222222")
T(664,1206,"\u0394 expression",angle=math.pi/2,align="center",color="#222222")
T(662,1432,"expression score",angle=math.pi/2,align="center",color="#222222")
T(662,1617,"\u0394 expression",angle=math.pi/2,align="center",color="#222222")
T(1015,1268,"Pseudotime",align="center",color="#222222"); T(1003,1688,"Pseudotime",align="center",color="#222222")
T(1074.5,1148,"Padj<5.11e-100"); T(1075,1580,"Padj<8.87e-26")

# ---------- panels ----------
def panel(L,T_,R,B,xr,yr,pl=110,pb=50,pr=3,pt=3):
    p = figure(width=int(round(R-L))+pl+pr,height=int(round(B-T_))+pb+pt,x_range=Range1d(*xr),y_range=Range1d(*yr),output_backend="svg",
               toolbar_location=None,min_border_left=pl,min_border_right=pr,min_border_top=pt,min_border_bottom=pb,frame_align=False,
               outline_line_color=None,background_fill_color=None,border_fill_color=None,styles=place(L-pl,T_-pt))
    p.grid.visible=False
    return p
def style(ax,color="#222222",line="#333333",tick=True,size="25px",lw=1.5,standoff=6,tick_out=4):
    ax.axis_line_color=line; ax.axis_line_width=lw
    ax.major_tick_line_color=line if tick else None; ax.major_tick_line_width=1.5; ax.major_tick_out=tick_out; ax.major_tick_in=0
    ax.minor_tick_line_color=None
    ax.major_label_text_font=FONT; ax.major_label_text_font_size=size; ax.major_label_text_color=color
    ax.major_label_standoff=standoff
X0=749.6; KX=7.37
def xr(L,R,k=KX): return ((L-X0)/k,(R-X0)/k)
def yr_px(T_,B,y0_px,k): return ((y0_px-B)/k,(y0_px-T_)/k)
def setup_x(p,top=70,so=6):
    p.xaxis.ticker=FixedTicker(ticks=[0,20,40,60]); p.xaxis.bounds=(0,top); style(p.xaxis[0],standoff=so)

# heat
hm = figure(width=354,height=802,x_range=Range1d(108,461),y_range=Range1d(0,801),output_backend="svg",toolbar_location=None,frame_align=False,
            min_border=0,outline_line_color=None,background_fill_color=None,border_fill_color=None,styles=place(108,35))
hm.axis.visible=False; hm.grid.visible=False
def stripes_into(a,j,st,k=1.0):
    for r,v in st:
        a[2*r,j]=v*k
        if 2*r+1 < a.shape[0]: a[2*r+1,j]=(a[2*r+1,j]+v*k)/2
wu = np.zeros((740,4))
for j,(f,m) in enumerate(zip([wt_faint_1,wt_faint_2,wt_faint_3,wt_faint_4],[wt_up_1,wt_up_2,wt_up_3,wt_up_4])):
    for r in f:
        s = 1 if r>0 else -1
        a = abs(r)
        level = .85 if a<200 else .6
        wu[2*a,j]=s*level; wu[2*a+1,j]=s*level*.6
    stripes_into(wu,j,m,1.0)
wd = np.zeros((60,4))
for j,c in enumerate([wt_dn_1,wt_dn_2,wt_dn_3,wt_dn_4]):
    stripes_into(wd,j,c)
ku = np.repeat(np.array([ko_up_1,ko_up_2,ko_up_3]).T,4,axis=0)
for j,c in enumerate([ko_stripes_1,ko_stripes_2,ko_stripes_3]):
    stripes_into(ku,j,c)
kd = np.array([ko_dn_1,ko_dn_2,ko_dn_3]).T
for arr,x,w,y,h in [(wu,108,205.5,62,739),(ku,319,142,62,739),(wd,108,205.5,0,59),(kd,319,142,0,59)]:
    hm.image(image=[arr[::-1]],x=x,y=y,dw=w,dh=h,color_mapper=mapper)

# colour bar a
cb = panel(74.5,33.7,100,322,(74.5,100),(-4,4),pl=70,pb=20,pr=1,pt=20)
cb.xaxis.visible=False
cb.image(image=[np.linspace(-4,4,160).reshape(-1,1)],x=79,y=-4,dw=21,dh=8,color_mapper=mapper)
cb.yaxis.ticker=FixedTicker(ticks=cbar_ticks); style(cb.yaxis[0],color="black",line="#111111",lw=2,tick_out=9,standoff=6)
cb.yaxis.major_label_overrides={t:str(t) for t in cbar_ticks}

# p legend b
pb_ = panel(590,1516.7,609,1697,(0,1),(0,5),pl=100,pb=3,pr=1,pt=3)
pb_.xaxis.visible=False
pb_.quad(left=0,right=1,bottom=[4,3,2,1,0],top=[5,4,3,2,1],fill_color=p_colors,line_color=None)
pb_.yaxis.ticker=FixedTicker(ticks=[4.5,3.5,2.5,1.5,.5])
pb_.yaxis.major_label_overrides={4.5:"1",3.5:"0.05",2.5:"0.01",1.5:"0.001",.5:"1e-05"}
style(pb_.yaxis[0],color="#111111",tick_out=6,standoff=8); pb_.yaxis.axis_line_color=None; pb_.yaxis.major_tick_line_width=3; pb_.yaxis.major_tick_line_color="black"

# c
pc = panel(743.8,13,1266,229.5,xr(743.8,1266),yr_px(13,229.5,217,1436))
setup_x(pc,70,6)
pc.yaxis.ticker=FixedTicker(ticks=[0,.05,.1]); pc.yaxis.formatter.use_scientific=False
pc.yaxis.major_label_overrides={0:"0.00",.05:"0.05",.1:"0.10"}
style(pc.yaxis[0]); pc.yaxis.bounds=(0,.1425)
def ms(a): return [v/1000 for v in a]
pc.varea(x=cb_x,y1=0,y2=ms(cb_y),fill_color=BLUE,fill_alpha=.3)
pc.line(cb_x,ms(cb_y),line_color=BLUE,line_width=2)
pc.varea(x=cc_x,y1=0,y2=ms(cc_y),fill_color=RED,fill_alpha=.28)
pc.line(cc_x,ms(cc_y),line_color="#e8202a",line_width=2)
pc.line([0,68.5],[0,0],line_color=BLUE,line_width=2)
pc.line(cb_x,ms(cb_y),line_color=BLUE,line_width=2)

# d
pd_ = panel(743.8,319,1266,534,xr(743.8,1266),yr_px(319,534,522.7,2905))
setup_x(pd_,70,5)
pd_.yaxis.ticker=FixedTicker(ticks=[0,.02,.04,.06]); pd_.yaxis.major_label_overrides={0:"0.00",.02:"0.02",.04:"0.04",.06:"0.06"}
style(pd_.yaxis[0]); pd_.yaxis.bounds=(0,.0701)
pd_.varea(x=d_x,y1=0,y2=ms(d_ko),fill_color=ORANGE,fill_alpha=.3)
pd_.varea(x=d_x,y1=0,y2=ms(d_wt),fill_color=TEAL,fill_alpha=.28)
pd_.line(d_x,ms(d_ko),line_color=ORANGE,line_width=2)
pd_.line(d_x,ms(d_wt),line_color=TEAL,line_width=2)
pd_.line([.5,68.5],[0,0],line_color=TEAL,line_width=2.5)

# e
pe = panel(743.8,607,1266,795,xr(743.8,1266),yr_px(607,795,727.7,8680))
setup_x(pe,70,3)
pe.yaxis.ticker=FixedTicker(ticks=[-.005,0,.005,.01]); pe.yaxis.major_label_overrides={-.005:"-0.005",0:"0.000",.005:"0.005",.01:"0.010"}
style(pe.yaxis[0]); pe.yaxis.bounds=(-.0075,.0139)
ey = np.array(e_y)/1000
pe.varea(x=e_x,y1=0,y2=np.minimum(ey,0).tolist(),fill_color="#2aa88f")
pe.varea(x=e_x,y1=0,y2=np.maximum(ey,0).tolist(),fill_color="#f68c28")

# f top
def dashes(p,xs,lo,hi):
    p.segment(x0=xs,x1=xs,y0=[lo]*len(xs),y1=[hi]*len(xs),line_color="#b5b5b5",line_width=1.2,line_dash="5 4")
K_F=7.39
pf = panel(744,973,1261,1112,xr(744,1261,K_F),yr_px(973,1112,980,920),pt=12)
setup_x(pf,69.4,2)
pf.yaxis.ticker=FixedTicker(ticks=[-.1,-.05,0]); pf.yaxis.major_label_overrides={-.1:"-0.10",-.05:"-0.05",0:"0.00"}
style(pf.yaxis[0],color="#333333",standoff=8); pf.yaxis.bounds=(-.1435,.0054)
dashes(pf,vlines_f,-.1435,.007)
pf.varea(x=f_cloud_x,y1=f_wt_bot,y2=f_wt_top,fill_color=TEAL,fill_alpha=.2)
pf.varea(x=f_cloud_x,y1=f_wt_in_bot,y2=f_wt_in_top,fill_color=TEAL,fill_alpha=.3)
pf.scatter(f_wt_x,f_wt_y,size=3.5,color=TEAL,alpha=.5,line_color=None)
pf.varea(x=f_cloud_x,y1=f_ko_bot,y2=f_ko_top,fill_color=ORANGE,fill_alpha=.22)
pf.varea(x=f_cloud_x,y1=f_ko_in_bot,y2=f_ko_in_top,fill_color=ORANGE,fill_alpha=.3)
pf.varea(x=f_core_x,y1=f_core_bot,y2=f_core_top,fill_color=ORANGE,fill_alpha=.6)
pf.scatter(f_ko_x,f_ko_y,size=3.5,color=ORANGE,alpha=.55,line_color=None)
pf.line(f_ko_fx,f_ko_fy,line_color=ORANGE,line_width=2.5)
pf.line(f_wt_fx,f_wt_fy,line_color=TEAL,line_width=2.5)

# f bottom
pf2 = panel(742,1165,1261,1266,xr(742,1261,K_F),yr_px(1165,1266,1230,2080),pb=10,pt=10)
pf2.xaxis.ticker=FixedTicker(ticks=[20,40,60]); style(pf2.xaxis[0],tick=False,color="#333333",standoff=2); pf2.xaxis.axis_line_color=None
pf2.xaxis.fixed_location=-.0005
pf2.yaxis.ticker=FixedTicker(ticks=[0,.01,.02]); pf2.yaxis.major_label_overrides={0:"0.00",.01:"0.01",.02:"0.02"}
style(pf2.yaxis[0],color="#333333",standoff=6,tick_out=2); pf2.yaxis.axis_line_color=None
pf2.varea(x=fd_x,y1=0,y2=fd_y,fill_color=SKY)
dashes(pf2,vlines_f,0,.0305)
dashes(pf2,[19.04,41.5,49.0,53.65,56.7,58.65,60.4,62.3,68.5],-.0125,-.0005)

# g top
K_G=7.45
pg = panel(736.7,1383,1265.7,1522.7,xr(736.7,1265.7,K_G),yr_px(1383,1522.7,1430.7,326))
setup_x(pg,69.3,2)
pg.yaxis.ticker=FixedTicker(ticks=[-.2,-.1,0,.1]); pg.yaxis.major_label_overrides={-.2:"-0.2",-.1:"-0.1",0:"0.0",.1:"0.1"}
style(pg.yaxis[0],color="#333333",standoff=6); pg.yaxis.bounds=(-.2822,.146)
dashes(pg,vlines_g,-.2822,.146)
pg.varea(x=g_cloud_x,y1=g_wt_bot,y2=g_wt_top,fill_color=TEAL,fill_alpha=.2)
pg.varea(x=g_cloud_x,y1=g_wt_in_bot,y2=g_wt_in_top,fill_color=TEAL,fill_alpha=.3)
pg.scatter(g_wt_x,g_wt_y,size=3.5,color=TEAL,alpha=.5,line_color=None)
pg.varea(x=g_cloud_x,y1=g_ko_bot,y2=g_ko_top,fill_color=ORANGE,fill_alpha=.2)
pg.varea(x=g_cloud_x,y1=g_ko_in_bot,y2=g_ko_in_top,fill_color=ORANGE,fill_alpha=.28)
pg.varea(x=g_core_x,y1=g_core_bot,y2=g_core_top,fill_color=ORANGE,fill_alpha=.5)
pg.scatter(g_ko_x,g_ko_y,size=3.5,color=ORANGE,alpha=.55,line_color=None)
pg.line(g_ko_fx,g_ko_fy,line_color=ORANGE,line_width=2.5)
pg.line(g_wt_fx,g_wt_fy,line_color=TEAL,line_width=2.5)

# g bottom
pg2 = panel(736.7,1590,1265.7,1692,xr(736.7,1265.7,K_G),yr_px(1590,1692,1652.7,1425),pb=5,pt=14)
pg2.xaxis.ticker=FixedTicker(ticks=[20,40,60]); style(pg2.xaxis[0],tick=False,color="#333333",standoff=2); pg2.xaxis.axis_line_color=None
pg2.xaxis.fixed_location=-.0005
pg2.yaxis.ticker=FixedTicker(ticks=[0,.01,.02,.03,.04]); pg2.yaxis.major_label_overrides={0:"0.00",.01:"",.02:"0.02",.03:"",.04:"0.04"}
style(pg2.yaxis[0],color="#333333",standoff=6,tick_out=2); pg2.yaxis.axis_line_color=None
pg2.varea(x=gd_x,y1=0,y2=gd_y,fill_color=SKY)
dashes(pg2,vlines_g,0,.0427)

root = column(ov,hm,cb,pb_,pc,pd_,pe,pf,pf2,pg,pg2,width=1269,height=1702,styles=place(0,0))
open("out.html","w").write(file_html(root,INLINE))
